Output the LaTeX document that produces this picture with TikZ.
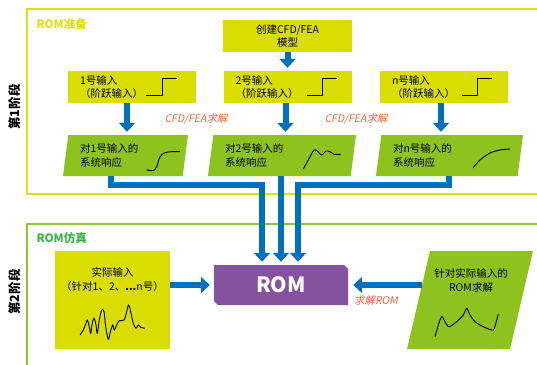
\documentclass[tikz,border=0pt]{standalone}
\usepackage{fontspec}
\setmainfont{Noto Sans CJK SC}
\newfontfamily\slfont[FakeSlant=0.2]{Noto Sans CJK SC}
\usetikzlibrary{shapes.geometric,shapes.misc,arrows.meta}
\definecolor{boxyellow}{RGB}{218,222,0}
\definecolor{frameyellow}{RGB}{222,222,20}
\definecolor{respgreen}{RGB}{141,194,31}
\definecolor{framegreen}{RGB}{141,198,63}
\definecolor{simgreen}{RGB}{57,181,74}
\definecolor{flowblue}{RGB}{0,112,188}
\definecolor{solveorange}{RGB}{240,100,60}
\definecolor{rompurple}{RGB}{133,82,160}
\tikzset{
  inbox/.style={fill=boxyellow, inner sep=0pt, minimum width=128pt, minimum height=32pt,
    align=left, font=\fontsize{10.5}{13}\selectfont},
  respbox/.style={trapezium, trapezium left angle=77.6, trapezium right angle=102.4,
    trapezium stretches body=true, fill=respgreen, inner sep=0pt, minimum height=41pt,
    align=left, font=\fontsize{10.5}{14.5}\selectfont},
  flow/.style={flowblue, line width=6pt, shorten >=3pt},
  solvelabel/.style={text=solveorange, font=\slfont\fontsize{10.5}{12}\selectfont},
  phase/.style={rotate=90, font=\bfseries\fontsize{12.5}{14}\selectfont},
  signal/.style={black, line width=0.9pt}
}

\begin{document}
\begin{tikzpicture}[x=1pt, y=-1pt, >={Triangle[width=16pt,length=9pt]}]
\useasboundingbox (0,0) rectangle (537,364);

% frames of the two stages
\draw [frameyellow, line width=2pt] (545,9) -- (27,9) -- (27,194) -- (545,194);
\draw [framegreen, line width=2pt] (545,224) -- (27,224) -- (27,370);
\node [anchor=west, text=frameyellow, font=\bfseries\fontsize{11.5}{13}\selectfont] (prep) at (33,24) {ROM准备};
\node [anchor=west, text=simgreen, font=\bfseries\fontsize{11.5}{13}\selectfont] (sim) at (33,238) {ROM仿真};
\node [phase] (ph1) at (15,107) {第1阶段};
\node [phase] (ph2) at (15,292) {第2阶段};

% stage 1
\node [inbox, align=center, minimum width=129pt] (cfd) at (287.5,36) {创建CFD/FEA\\模型};
\node [inbox, text width=104pt] (in1) at (132,87) {1号输入\\（阶跃输入）};
\node [inbox, text width=104pt] (in2) at (287.5,87) {2号输入\\（阶跃输入）};
\node [inbox, text width=104pt] (inN) at (444,87) {n号输入\\（阶跃输入）};
\draw [signal] (146,95) -- (162,95) -- (162,78) -- (177,78);
\draw [signal] (307,95) -- (322,95) -- (322,78) -- (337,78);
\draw [signal] (462,95) -- (477,95) -- (477,78) -- (492,78);

\node [respbox, minimum width=125pt, text width=91pt] (resp1) at (125.5,155.5) {对1号输入的\\系统响应};
\node [respbox, minimum width=148pt, text width=114pt] (resp2) at (282,155.5) {对2号输入的\\系统响应};
\node [respbox, minimum width=147pt, text width=113pt] (respN) at (449.5,155.5) {对n号输入的\\系统响应};
\draw [signal] plot [smooth] coordinates {(146.7,170) (153.3,170.5) (156.7,166.7) (160,156.7) (165,152.7) (171.7,151.7) (180,151.7)};
\draw [signal] plot [smooth] coordinates {(303.3,169) (308.3,160) (314,150) (317.3,151) (321.7,155) (326,151) (330,151.7) (334,154.3) (340.7,154.3)};
\draw [signal] plot [smooth] coordinates {(473,168) (480,160) (490,153) (500,150) (510,149)};

\draw [flow,->] (cfd) -- (in2);
\draw [flow,->] ([xshift=-5pt]in1.south) -- ([xshift=-5pt]in1.south |- resp1.north);
\draw [flow,->] ([xshift=-2pt]in2.south) -- ([xshift=-2pt]in2.south |- resp2.north);
\draw [flow,->] ([xshift=-3pt]inN.south) -- ([xshift=-3pt]inN.south |- respN.north);
\node [solvelabel] (solve1) at (196,119) {CFD/FEA求解};
\node [solvelabel] (solve2) at (356,119) {CFD/FEA求解};

% stage 2
\node [chamfered rectangle, chamfered rectangle corners={north east,south west},
  chamfered rectangle xsep=2pt, chamfered rectangle ysep=2pt, fill=rompurple,
  minimum width=134pt, minimum height=40pt, inner sep=0pt, text=white,
  font=\bfseries\fontsize{21}{21}\selectfont] (rom) at (281,285) {ROM};

\node [fill=boxyellow, minimum width=115pt, minimum height=98pt, inner sep=0pt] (act) at (112.5,300) {};
\node [align=center, font=\fontsize{10.5}{14}\selectfont] (acttxt) at (112.5,280) {实际输入\\（针对1、2、\textbf{...}n号）};
\draw [signal] plot [smooth, tension=0.6] coordinates {(80,335) (83.3,330) (86,323.3) (87.3,320) (89.3,326.7) (90.7,333.3) (92.3,323.3) (94,318.3) (96,325) (97.3,333.3) (99.3,320) (101.7,310) (104,311.7) (105.7,326.7) (108.3,339.3) (110,333.3) (112.7,325) (114.3,330) (116.7,325) (119.3,320.7) (124,320) (126.7,311.7) (128.7,305) (131,313.3) (133.3,323.3) (136,328.3) (138.3,325) (140.7,327.3) (145,328.3)};

\node [trapezium, trapezium left angle=76.8, trapezium right angle=103.2,
  fill=respgreen, inner sep=0pt, text width=80pt] (rsol) at (470,300) {\rule{0pt}{98pt}};
\node [align=center, font=\fontsize{10.5}{14}\selectfont] (rsoltxt) at (471,280) {针对实际输入的\\ROM求解};
\draw [signal] plot [smooth, tension=0.5] coordinates {(435,336.7) (438.3,325) (441.7,316.7) (445,321.7) (449,326.7) (456.7,321.7) (463.3,315) (466.7,308.3) (470,315) (475,321.7) (483.3,326.7) (491.7,330) (494.3,328.3) (498.3,314)};

% connectors into the ROM
\draw [flow,->] ([xshift=-15pt]resp1.south) -- ++(0,9) -| ([xshift=-19pt]rom.north);
\draw [flow,->] (rom.north |- resp2.south) -- (rom.north);
\draw [flow,->] ([xshift=-0.5pt]respN.south) -- ++(0,9) -| ([xshift=17pt]rom.north);
\draw [flow,->, shorten >=4pt] (act.east |- rom.west) -- (rom.west);
\draw [flow,->, shorten <=-4pt, shorten >=5pt] (rsol.west |- rom.east) -- (rom.east);
\node [solvelabel] (solve3) at (376,301) {求解ROM};
\end{tikzpicture}
\end{document}
